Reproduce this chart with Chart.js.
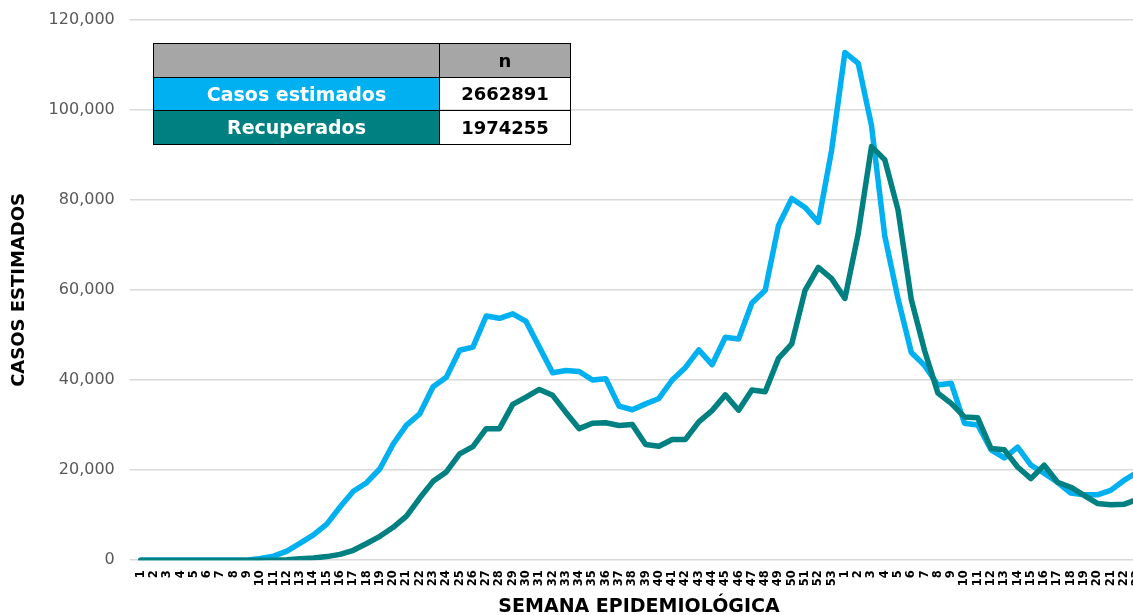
<!DOCTYPE html>
<html>
<head>
<meta charset="utf-8">
<script src="https://cdn.jsdelivr.net/npm/chart.js@4"></script>
<style>
  html, body { margin: 0; padding: 0; background: #fff; overflow: hidden; }
  #wrap { position: relative; width: 1133px; height: 615px; overflow: hidden; }
  #myChart { position: absolute; left: 0; top: -5px; }
  #tabla {
    position: absolute; left: 153px; top: 43px;
    border-collapse: collapse;
    font-family: "DejaVu Sans", sans-serif; font-weight: bold;
  }
  #tabla td { border: 1px solid #000; height: 32.6px; padding: 0; text-align: center; }
  #tabla .c1 { width: 285px; }
  #tabla .c2 { width: 130px; }
</style>
</head>
<body>
<div id="wrap">
  <canvas id="myChart" width="1153" height="623"></canvas>
  <table id="tabla">
    <tr><td class="c1" style="background:#a6a6a6"></td><td class="c2" style="background:#a6a6a6;color:#000;font-size:18px">n</td></tr>
    <tr><td class="c1" style="background:#00b0f0;color:#fff;font-size:19px">Casos estimados</td><td class="c2" style="color:#000;font-size:18px">2662891</td></tr>
    <tr><td class="c1" style="background:#008080;color:#fff;font-size:19px">Recuperados</td><td class="c2" style="color:#000;font-size:18px">1974255</td></tr>
  </table>
</div>
<script>
var ctx = document.getElementById('myChart').getContext('2d');

// semanas epidemiologicas: 2020 (1-53) y 2021 (1-23)
var semanas = ["1","2","3","4","5","6","7","8","9","10","11","12","13","14","15","16","17","18","19","20",
  "21","22","23","24","25","26","27","28","29","30","31","32","33","34","35","36","37","38","39","40",
  "41","42","43","44","45","46","47","48","49","50","51","52","53",
  "1","2","3","4","5","6","7","8","9","10","11","12","13","14","15","16","17","18","19","20","21","22","23"];

// casos estimados por semana
var casosEstimados = [0, 0, 0, 0, 0, 0, 0, 0, 0,
  400, 900, 2000, 3800, 5600, 8000, 11800, 15300, 17200, 20300, 25800,
  30000, 32500, 38500, 40600, 46600, 47300, 54200, 53700, 54700, 53000,
  47300, 41600, 42100, 41900, 40000, 40300, 34200, 33400, 34700, 35900,
  40000, 42800, 46700, 43400, 49500, 49100, 57100, 59900, 74300, 80300,
  78300, 75000, 91000,
  112700, 110300, 96500, 72000, 58000, 46100, 43200, 38900, 39300, 30400,
  30000, 24500, 22700, 25100, 21100, 19300, 17300, 14900, 14500, 14500,
  15500, 17700, 19500];

// recuperados por semana
var recuperados = [0, 0, 0, 0, 0, 0, 0, 0, 0, 0, 0,
  100, 300, 500, 800, 1300, 2200, 3700, 5300, 7300,
  9800, 13800, 17500, 19600, 23600, 25200, 29200, 29200, 34600, 36200,
  37900, 36600, 32800, 29200, 30400, 30500, 29900, 30100, 25700, 25300,
  26800, 26800, 30700, 33200, 36700, 33300, 37800, 37400, 44800, 48000,
  59900, 65000, 62500,
  58100, 72500, 91800, 88900, 77700, 57800, 46500, 37100, 34800, 31800,
  31600, 24800, 24500, 20700, 18100, 21100, 17300, 16200, 14400, 12600,
  12300, 12400, 13500];

var myChart = new Chart(ctx, {
    type: 'line',
    data: {
        labels: semanas,
        datasets: [{
            data: casosEstimados,
            label: "Casos estimados",
            borderColor: "#00b0f0",
            borderWidth: 5.5,
            pointRadius: 0,
            tension: 0,
            borderJoinStyle: 'round',
            borderCapStyle: 'round',
            fill: false,
            order: 2
        },
        {
            data: recuperados,
            label: "Recuperados",
            borderColor: "#008080",
            borderWidth: 5.5,
            pointRadius: 0,
            tension: 0,
            borderJoinStyle: 'round',
            borderCapStyle: 'round',
            fill: false,
            order: 1
        }]
    },
    options: {
        responsive: false,
        animation: false,
        layout: { padding: { top: 5, right: 0, bottom: 0, left: 0 } },
        plugins: {
            legend: { display: false },
            tooltip: { enabled: false }
        },
        scales: {
            x: {
                offset: false,
                grid: { display: false },
                border: { display: false },
                ticks: {
                    autoSkip: false,
                    minRotation: 90,
                    maxRotation: 90,
                    padding: 2,
                    color: '#000',
                    font: { family: 'DejaVu Sans', size: 11.5, weight: 'bold' }
                },
                title: {
                    display: true,
                    text: 'SEMANA EPIDEMIOLÓGICA',
                    color: '#000',
                    font: { family: 'DejaVu Sans', size: 19, weight: 'bold' },
                    padding: { top: 7, bottom: 0 }
                }
            },
            y: {
                min: 0,
                max: 120000,
                border: { display: false },
                grid: { color: '#d9d9d9', lineWidth: 1.5, tickLength: 11 },
                ticks: {
                    stepSize: 20000,
                    padding: 15,
                    color: '#595959',
                    font: { family: 'DejaVu Sans', size: 16 },
                    callback: function (v) { return v.toLocaleString('en-US'); }
                },
                title: {
                    display: true,
                    text: 'CASOS ESTIMADOS',
                    color: '#000',
                    font: { family: 'DejaVu Sans', size: 18, weight: 'bold' },
                    padding: { top: 9, bottom: 3 }
                }
            }
        }
    }
});
</script>
</body>
</html>
